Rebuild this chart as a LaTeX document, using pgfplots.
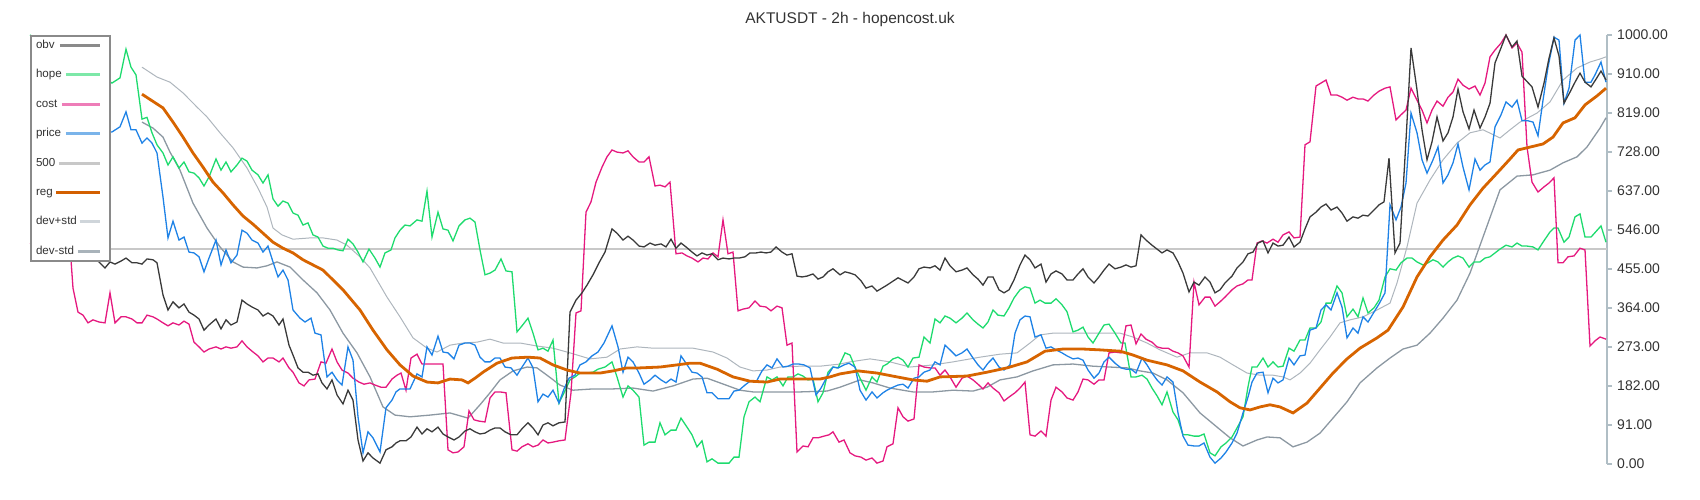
\documentclass[border=0pt]{standalone}
\usepackage{fontspec}
\setmainfont{Liberation Sans}
\usepackage{pgfplots}
\pgfplotsset{compat=1.18}

\definecolor{obvc}{HTML}{3A3A3A}
\definecolor{hopec}{HTML}{1EDB6E}
\definecolor{costc}{HTML}{E5197F}
\definecolor{pricec}{HTML}{1E82E6}
\definecolor{fivec}{HTML}{C8C8C8}
\definecolor{regc}{HTML}{D76400}
\definecolor{devpc}{HTML}{AEB6BD}
\definecolor{devmc}{HTML}{8C98A2}
\definecolor{axisc}{HTML}{B0BEC5}
\definecolor{txt}{HTML}{333333}
\definecolor{legbord}{HTML}{8A8A8A}
% lighter samples in the legend
\definecolor{lobv}{HTML}{8A8A8A}
\definecolor{lhope}{HTML}{7DE8A8}
\definecolor{lcost}{HTML}{EE7DB8}
\definecolor{lprice}{HTML}{7AB4EA}
\definecolor{lfive}{HTML}{C8C8C8}
\definecolor{lreg}{HTML}{D35F00}
\definecolor{ldevp}{HTML}{CFD5DA}
\definecolor{ldevm}{HTML}{A9B3BA}

% legend sample: colour, width, length (line ends at the image origin)
\newcommand{\legline}[3]{%
  \addlegendimage{legend image code/.code={%
    \draw[overlay,draw=#1,line width=#2] (-#3,0pt) -- (0pt,0pt);
    \path[draw=none,fill=none] (-1pt,0pt) rectangle (5pt,0pt);}}}

\begin{document}
\begin{tikzpicture}
\path[use as bounding box] (0pt,0pt) rectangle (1700pt,500pt);
\begin{axis}[
    at={(30pt,36pt)}, anchor=south west,
    scale only axis,
    width=1577pt, height=429pt,
    xmin=30, xmax=1607, ymin=0, ymax=1000,
    enlargelimits=false,
    clip=false,
    axis x line=none,
    axis y line=right,
    y axis line style={-, color=axisc, line width=1.5pt},
    ytick={0,90.909,181.818,272.727,363.636,454.545,545.455,636.364,727.273,818.182,909.091,1000},
    yticklabels={0.00,91.00,182.00,273.00,364.00,455.00,546.00,637.00,728.00,819.00,910.00,1000.00},
    tick align=outside,
    major tick length=5pt,
    ytick style={color=axisc, line width=1.5pt},
    yticklabel style={font=\fontsize{14}{16}\selectfont, text=txt, anchor=west, inner sep=0pt, xshift=5pt},
    legend cell align=left,
    legend plot pos=right,
    legend style={at={(0,1)}, anchor=north west, draw=legbord, line width=2pt, fill=white,
        inner xsep=5pt, inner ysep=3.6pt, row sep=17.4pt, column sep=22pt,
        font=\fontsize{11.6}{13}\selectfont, text=txt,
        nodes={inner sep=0pt, text height=9pt, text depth=3pt}},
]

\legline{lobv}{3pt}{40pt}\addlegendentry{obv}
\legline{lhope}{3pt}{34pt}\addlegendentry{hope}
\legline{lcost}{3pt}{38pt}\addlegendentry{cost}
\legline{lprice}{3pt}{34pt}\addlegendentry{price}
\legline{lfive}{3pt}{41pt}\addlegendentry{500}
\legline{lreg}{3pt}{44pt}\addlegendentry{reg}
\legline{ldevp}{3pt}{20pt}\addlegendentry{dev+std}
\legline{ldevm}{3pt}{22pt}\addlegendentry{dev-std}

% 500
\addplot[forget plot, color=fivec, line width=2pt] coordinates {(30,500) (1607,500)};

% dev+std
\addplot[forget plot, color=devpc, line width=1pt] coordinates {
(142,925) (157,902) (170,890) (183,865) (197,832) (207,809) (220,772) (233,737) (247,690)
(258,643) (267,599) (273,550) (282,534) (293,524) (310,527) (323,527) (337,522) (347,510)
(360,483) (370,457) (377,429) (387,389) (400,343) (413,294) (427,270) (437,261) (450,277)
(463,282) (477,284) (490,291) (503,282) (520,282) (537,275) (553,270) (570,259) (590,245)
(607,249) (620,268) (637,273) (653,270) (673,270) (693,270) (713,261) (727,247) (740,226)
(753,217) (767,219) (780,226) (800,228) (820,228) (840,233) (850,238) (870,245) (890,238)
(910,226) (933,231) (953,238) (980,249) (1000,256) (1017,259) (1030,282) (1040,301) (1053,305)
(1073,305) (1100,305) (1120,305) (1133,296) (1147,282) (1160,266) (1177,249) (1190,259)
(1207,259) (1220,249) (1233,231) (1247,212) (1260,207) (1273,207) (1283,203) (1290,196)
(1300,212) (1310,235) (1320,266) (1330,296) (1340,329) (1350,336) (1363,343) (1377,359)
(1390,375) (1397,422) (1407,506) (1417,608) (1430,662) (1443,709) (1457,748) (1470,772)
(1483,779) (1500,760) (1510,779) (1520,797) (1537,818) (1550,844) (1563,895) (1577,923)
(1590,937) (1600,944) (1606,949)
};

% dev-std
\addplot[forget plot, color=devmc, line width=1.3pt] coordinates {
(142,797) (153,783) (163,762) (170,727) (180,685) (193,608) (207,550) (220,506) (233,471)
(243,459) (257,457) (267,462) (277,471) (290,459) (303,429) (317,399) (330,359) (343,305)
(357,259) (370,203) (383,133) (395,114) (410,110) (430,114) (450,119) (468,107) (480,138)
(490,166) (500,196) (513,217) (527,226) (537,224) (547,207) (560,184) (573,172) (593,175)
(613,175) (633,177) (653,170) (673,182) (693,198) (707,200) (720,189) (740,172) (753,168)
(773,168) (800,168) (827,170) (840,179) (860,196) (873,189) (890,177) (913,168) (933,168)
(953,172) (973,170) (987,179) (1000,196) (1017,203) (1033,217) (1053,231) (1073,233)
(1093,228) (1110,226) (1127,224) (1140,217) (1153,212) (1167,196) (1183,166) (1200,119)
(1217,86) (1230,61) (1243,42) (1257,56) (1267,63) (1280,61) (1293,40) (1307,51) (1320,72)
(1333,107) (1347,145) (1360,189) (1377,224) (1390,247) (1403,268) (1417,277) (1430,305)
(1443,340) (1457,382) (1470,445) (1483,529) (1500,639) (1517,671) (1533,674) (1550,685)
(1563,702) (1577,716) (1587,739) (1600,783) (1606,807)
};

% hope
\addplot[forget plot, color=hopec, line width=1.3pt] coordinates {
(30,1000) (112,888) (120,900) (126,967) (131,925) (136,907) (142,804) (147,808) (152,772)
(157,744) (163,725) (168,697) (173,716) (179,690) (184,704) (189,681) (194,678) (199,667)
(204,648) (209,669) (216,711) (221,685) (226,704) (231,681) (237,697) (242,713) (247,706)
(252,685) (258,674) (263,655) (268,674) (273,618) (278,601) (283,613) (288,608) (293,585)
(298,580) (303,557) (308,562) (313,534) (318,529) (323,508) (328,503) (333,503) (338,499)
(343,497) (348,524) (353,513) (358,494) (363,471) (369,501) (375,480) (380,459) (385,492)
(391,499) (395,527) (400,545) (405,557) (410,555) (417,569) (422,566) (427,636) (432,529)
(438,587) (443,548) (448,545) (453,520) (459,555) (465,569) (470,573) (475,564) (480,499)
(485,441) (490,445) (495,452) (501,478) (506,450) (512,448) (517,308) (522,322) (528,340)
(533,305) (538,266) (543,270) (548,263) (553,289) (559,142) (564,166) (570,196) (575,203)
(580,212) (587,212) (593,214) (598,221) (605,226) (612,238) (617,203) (623,156) (628,182)
(633,172) (639,156) (644,44) (649,51) (655,51) (660,96) (665,68) (671,79) (676,79) (681,107)
(687,86) (692,68) (697,40) (702,54) (707,5) (712,12) (718,2) (723,2) (729,2) (734,16)
(739,16) (744,110) (749,145) (755,156) (760,145) (767,203) (772,196) (777,203) (783,182)
(788,203) (793,203) (798,210) (803,205) (808,196) (813,198) (818,145) (823,166) (828,214)
(833,226) (838,224) (845,259) (850,254) (855,226) (860,200) (866,172) (872,203) (877,191)
(883,228) (887,233) (893,245) (898,249) (903,242) (908,226) (913,247) (919,249) (924,296)
(930,282) (935,338) (940,329) (945,345) (950,340) (956,329) (962,340) (967,352) (973,336)
(978,326) (983,317) (988,331) (993,359) (998,347) (1004,345) (1009,364) (1014,387) (1020,406)
(1025,413) (1030,410) (1035,375) (1040,382) (1045,375) (1051,375) (1056,385) (1062,371)
(1067,355) (1073,308) (1078,312) (1083,319) (1088,296) (1093,282) (1099,305) (1104,324)
(1109,326) (1115,305) (1121,282) (1125,282) (1131,203) (1136,203) (1142,207) (1147,198)
(1152,177) (1157,159) (1162,138) (1167,168) (1173,121) (1178,103) (1183,68) (1188,68)
(1194,65) (1199,65) (1204,70) (1210,26) (1215,19) (1221,40) (1226,49) (1232,63) (1237,84)
(1243,110) (1248,180) (1252,226) (1257,226) (1263,247) (1268,226) (1273,238) (1278,226)
(1283,228) (1289,270) (1294,263) (1300,289) (1305,289) (1310,317) (1316,317) (1321,331)
(1326,375) (1331,375) (1337,415) (1342,399) (1347,343) (1353,361) (1358,343) (1363,387)
(1368,352) (1374,364) (1379,382) (1385,436) (1390,455) (1396,452) (1401,469) (1407,480)
(1412,480) (1417,471) (1423,464) (1428,469) (1433,476) (1438,471) (1443,459) (1448,471)
(1453,480) (1458,485) (1463,480) (1469,459) (1474,471) (1480,471) (1485,480) (1490,483)
(1495,492) (1500,501) (1506,510) (1512,506) (1517,515) (1522,508) (1527,508) (1533,506)
(1538,499) (1543,517) (1550,541) (1554,550) (1558,550) (1564,517) (1569,529) (1575,576)
(1580,583) (1585,529) (1591,529) (1601,555) (1606,517)
};

% cost
\addplot[forget plot, color=costc, line width=1.3pt] coordinates {
(30,515) (71,476) (73,410) (78,354) (83,347) (88,329) (93,336) (99,331) (105,329) (110,399)
(115,329) (121,343) (126,343) (132,338) (137,329) (142,329) (147,347) (153,343) (157,338)
(163,329) (168,322) (173,329) (179,324) (184,333) (189,326) (194,284) (199,273) (204,261)
(209,268) (216,273) (221,268) (226,273) (231,270) (237,273) (242,287) (247,273) (252,263)
(258,252) (263,238) (268,247) (273,247) (279,238) (283,247) (289,224) (293,214) (299,189)
(304,182) (309,196) (315,198) (321,238) (326,235) (332,268) (337,238) (342,219) (348,212)
(353,200) (359,191) (364,186) (370,189) (375,184) (381,179) (386,179) (392,198) (397,207)
(401,212) (406,172) (411,247) (417,256) (422,233) (427,233) (437,233) (443,233) (448,33)
(453,26) (458,28) (464,40) (469,124) (474,103) (479,100) (485,98) (490,154) (495,168)
(500,168) (506,166) (512,33) (517,30) (522,40) (528,47) (533,40) (538,44) (543,56) (548,49)
(553,51) (559,54) (565,56) (571,166) (576,352) (581,357) (586,587) (591,611) (596,657)
(602,692) (607,716) (612,732) (617,727) (623,725) (628,730) (633,716) (639,704) (644,704)
(649,716) (655,648) (660,650) (665,646) (670,657) (676,490) (682,492) (687,485) (692,480)
(698,471) (703,480) (708,478) (713,492) (718,483) (723,569) (728,490) (733,494) (738,357)
(743,361) (749,364) (755,380) (760,368) (766,366) (771,357) (777,368) (782,364) (787,277)
(792,282) (797,28) (803,42) (808,40) (813,61) (818,61) (824,65) (829,68) (833,75) (839,51)
(844,56) (850,26) (855,19) (861,16) (866,9) (872,14) (877,2) (883,7) (887,40) (893,47)
(898,131) (903,110) (908,100) (914,105) (919,231) (924,226) (930,224) (935,224) (940,207)
(945,219) (950,203) (956,179) (962,200) (967,205) (973,196) (978,186) (983,175) (988,189)
(993,177) (999,166) (1004,147) (1009,156) (1015,166) (1020,177) (1025,191) (1030,68)
(1035,65) (1041,77) (1046,65) (1051,149) (1056,179) (1062,168) (1067,154) (1073,149)
(1078,168) (1083,198) (1088,196) (1094,186) (1099,196) (1104,196) (1109,259) (1115,261)
(1121,259) (1126,322) (1131,324) (1136,280) (1141,303) (1146,291) (1152,284) (1157,273)
(1162,270) (1168,270) (1173,263) (1178,259) (1183,252) (1189,226) (1194,424) (1199,371)
(1205,389) (1210,389) (1215,368) (1220,378) (1225,389) (1232,406) (1237,415) (1243,420)
(1248,429) (1252,429) (1257,515) (1262,520) (1267,515) (1273,524) (1278,517) (1283,534)
(1289,541) (1294,527) (1300,529) (1305,744) (1310,751) (1316,881) (1321,888) (1326,895)
(1331,860) (1337,860) (1342,855) (1347,848) (1353,855) (1358,851) (1363,851) (1368,846)
(1374,860) (1379,869) (1385,876) (1390,879) (1396,802) (1401,814) (1406,825) (1411,876)
(1417,848) (1422,825) (1427,795) (1432,825) (1437,846) (1443,834) (1448,855) (1453,867)
(1458,897) (1463,883) (1469,874) (1475,881) (1480,860) (1485,888) (1490,949) (1495,965)
(1501,981) (1506,1000) (1512,970) (1517,981) (1522,960) (1527,739) (1532,657) (1538,634)
(1544,646) (1549,655) (1554,667) (1558,469) (1563,469) (1568,483) (1574,485) (1580,503)
(1585,499) (1590,275) (1595,287) (1600,296) (1606,291)
};

% price
\addplot[forget plot, color=pricec, line width=1.3pt] coordinates {
(100,770) (112,774) (120,786) (126,821) (131,779) (136,779) (142,748) (147,760) (152,748)
(157,725) (163,622) (168,527) (173,566) (179,522) (184,529) (189,494) (194,492) (199,483)
(204,448) (209,480) (216,522) (221,464) (226,499) (231,469) (237,487) (242,545) (247,538)
(252,522) (258,515) (263,494) (268,508) (273,471) (278,436) (283,452) (288,429) (293,359)
(300,340) (305,331) (311,340) (315,305) (321,301) (324,249) (327,203) (332,214) (337,196)
(342,184) (348,273) (353,242) (358,110) (363,26) (368,75) (373,61) (380,28) (386,131)
(392,149) (396,168) (400,175) (410,175) (417,210) (422,203) (427,273) (432,254) (438,298)
(443,261) (448,259) (454,245) (459,277) (465,282) (470,282) (475,277) (480,249) (485,238)
(490,238) (495,247) (500,247) (505,226) (511,224) (517,207) (522,226) (528,247) (533,224)
(538,145) (543,163) (548,156) (553,172) (559,142) (564,175) (569,200) (575,207) (580,231)
(586,238) (592,252) (598,261) (604,282) (612,322) (618,273) (623,214) (628,249) (633,238)
(639,212) (644,186) (650,196) (655,207) (661,196) (666,189) (671,198) (676,191) (681,252)
(686,235) (692,214) (697,212) (702,203) (707,166) (712,166) (718,152) (723,152) (729,152)
(734,170) (739,172) (745,184) (750,193) (756,191) (762,217) (767,231) (772,224) (777,245)
(783,226) (788,228) (793,233) (799,233) (804,231) (810,224) (816,161) (821,177) (827,203)
(833,226) (838,224) (844,231) (849,235) (855,226) (860,172) (866,149) (872,168) (877,154)
(883,166) (887,172) (893,179) (898,184) (903,186) (908,177) (914,200) (919,203) (924,214)
(930,219) (935,238) (940,231) (945,277) (950,266) (956,252) (962,259) (967,268) (973,247)
(978,231) (983,219) (988,235) (993,247) (999,226) (1004,219) (1010,231) (1015,305)
(1020,336) (1025,345) (1030,343) (1035,296) (1041,301) (1046,270) (1051,273) (1056,266)
(1062,259) (1067,252) (1073,245) (1078,247) (1083,242) (1088,219) (1094,200) (1099,212)
(1104,238) (1109,249) (1115,235) (1121,224) (1126,221) (1131,221) (1136,212) (1142,247)
(1147,231) (1152,212) (1157,196) (1162,184) (1167,203) (1173,191) (1178,119) (1183,65)
(1188,44) (1194,42) (1199,42) (1204,49) (1210,16) (1215,2) (1221,14) (1226,28) (1232,49)
(1237,72) (1243,119) (1248,156) (1252,191) (1257,212) (1263,214) (1268,166) (1273,200)
(1278,189) (1283,196) (1289,247) (1294,231) (1300,252) (1305,254) (1310,312) (1316,317)
(1321,359) (1326,371) (1331,359) (1337,399) (1342,366) (1347,294) (1353,317) (1358,305)
(1363,343) (1368,331) (1374,354) (1379,373) (1385,399) (1390,604) (1396,569) (1401,599)
(1406,655) (1411,818) (1417,772) (1422,709) (1427,678) (1433,709) (1438,739) (1443,655)
(1448,674) (1453,702) (1458,746) (1463,692) (1469,639) (1475,711) (1480,685) (1485,697)
(1490,704) (1495,786) (1501,814) (1506,844) (1512,832) (1517,848) (1522,800) (1528,800)
(1533,797) (1538,765) (1543,848) (1548,925) (1554,995) (1559,988) (1564,841) (1569,876)
(1575,988) (1580,1000) (1585,890) (1591,890) (1595,907) (1601,937) (1606,890)
};

% obv
\addplot[forget plot, color=obvc, line width=1.3pt] coordinates {
(70,485) (88,476) (93,480) (99,471) (105,457) (110,471) (115,466) (121,473) (126,480)
(132,469) (137,469) (142,466) (147,478) (153,476) (157,469) (163,394) (168,359) (173,378)
(179,364) (184,373) (189,354) (194,347) (199,338) (204,312) (209,324) (216,338) (221,315)
(226,336) (231,324) (237,331) (242,382) (247,373) (252,366) (258,359) (263,345) (268,352)
(273,345) (279,324) (283,338) (289,277) (293,254) (298,224) (303,214) (308,214) (313,207)
(318,210) (322,189) (327,175) (332,196) (337,161) (343,140) (348,172) (353,149) (358,56)
(363,7) (368,26) (373,14) (380,2) (386,33) (392,40) (396,49) (400,54) (406,54) (411,63)
(417,86) (422,70) (427,82) (432,75) (438,86) (443,70) (448,63) (454,56) (459,63) (465,77)
(470,82) (475,75) (480,70) (485,72) (490,79) (495,84) (500,84) (505,75) (511,68) (517,68)
(522,82) (528,96) (533,84) (538,68) (543,91) (548,96) (553,89) (559,96) (565,98) (570,354)
(576,382) (582,399) (587,417) (593,441) (599,469) (605,494) (612,548) (617,538) (623,522)
(628,531) (633,522) (639,508) (644,506) (650,515) (655,510) (661,513) (666,506) (671,524)
(676,503) (681,515) (686,506) (692,494) (697,485) (702,492) (707,487) (712,490) (718,476)
(723,480) (729,478) (734,480) (739,480) (745,483) (750,492) (756,492) (761,494) (766,492)
(771,494) (776,506) (782,494) (787,487) (792,490) (797,438) (802,436) (807,438) (813,443)
(818,431) (823,436) (828,448) (833,455) (840,441) (845,448) (850,445) (855,441) (861,427)
(866,410) (872,415) (877,403) (887,417) (898,434) (908,422) (914,436) (919,455) (924,459)
(930,457) (935,462) (940,452) (945,480) (950,462) (956,448) (962,452) (967,457) (973,441)
(978,431) (983,417) (988,436) (993,436) (999,406) (1004,399) (1009,406) (1014,429)
(1020,464) (1025,487) (1030,476) (1035,457) (1041,466) (1046,424) (1051,443) (1056,450)
(1062,443) (1067,429) (1073,429) (1078,443) (1083,455) (1088,436) (1094,422) (1099,436)
(1104,452) (1109,466) (1115,455) (1121,459) (1126,464) (1131,459) (1136,462) (1141,534)
(1146,522) (1152,510) (1157,501) (1162,492) (1167,499) (1173,492) (1178,471) (1183,445)
(1189,401) (1194,424) (1199,417) (1205,436) (1210,424) (1215,399) (1220,406) (1225,422)
(1232,438) (1237,457) (1243,471) (1248,490) (1253,494) (1258,515) (1263,520) (1268,492)
(1273,515) (1278,508) (1283,510) (1289,529) (1294,506) (1300,517) (1305,548) (1310,576)
(1316,587) (1321,599) (1326,606) (1331,592) (1337,599) (1342,585) (1347,566) (1353,576)
(1358,573) (1363,580) (1368,578) (1374,592) (1379,604) (1384,611) (1389,713) (1395,492)
(1400,515) (1406,755) (1411,970) (1417,872) (1422,779) (1427,709) (1432,751) (1437,809)
(1443,753) (1448,772) (1453,809) (1458,874) (1463,821) (1469,781) (1474,825) (1480,783)
(1485,809) (1490,841) (1495,935) (1501,970) (1506,1000) (1512,972) (1517,986) (1522,904)
(1532,879) (1538,832) (1544,888) (1549,946) (1554,993) (1559,951) (1564,841) (1570,867)
(1575,890) (1580,911) (1585,890) (1591,879) (1596,897) (1601,916) (1606,895)
};

% reg
\addplot[forget plot, color=regc, line width=2.8pt] coordinates {
(142,862) (163,830) (173,797) (183,762) (193,725) (203,692) (213,657) (223,632) (233,604)
(243,578) (253,559) (263,538) (273,517) (283,503) (293,492) (303,476) (313,464) (323,452)
(343,406) (360,359) (373,312) (387,266) (400,231) (413,205) (427,191) (438,189) (450,198)
(462,196) (468,189) (475,200) (483,214) (497,235) (512,247) (528,249) (540,247) (553,231)
(567,219) (580,212) (600,212) (613,217) (627,224) (640,224) (660,226) (677,231) (690,235)
(700,235) (717,221) (733,203) (750,193) (767,191) (780,198) (800,198) (820,198) (830,203)
(840,210) (858,217) (877,212) (897,203) (913,196) (927,193) (940,203) (967,205) (987,214)
(1007,224) (1027,238) (1045,263) (1063,268) (1083,268) (1100,266) (1120,263) (1133,254)
(1147,242) (1167,231) (1183,217) (1200,191) (1217,168) (1230,145) (1240,131) (1250,126)
(1260,133) (1270,138) (1280,133) (1293,119) (1307,142) (1320,177) (1333,212) (1347,245)
(1360,270) (1377,294) (1388,312) (1403,366) (1417,436) (1430,483) (1443,522) (1457,557)
(1470,604) (1483,643) (1497,678) (1510,711) (1518,732) (1527,737) (1543,746) (1553,762)
(1563,795) (1575,807) (1585,837) (1597,858) (1606,876)
};

\end{axis}
\node[font=\fontsize{15.5}{18}\selectfont, text=txt] at (850pt,480pt) {AKTUSDT - 2h - hopencost.uk};
\end{tikzpicture}
\end{document}
